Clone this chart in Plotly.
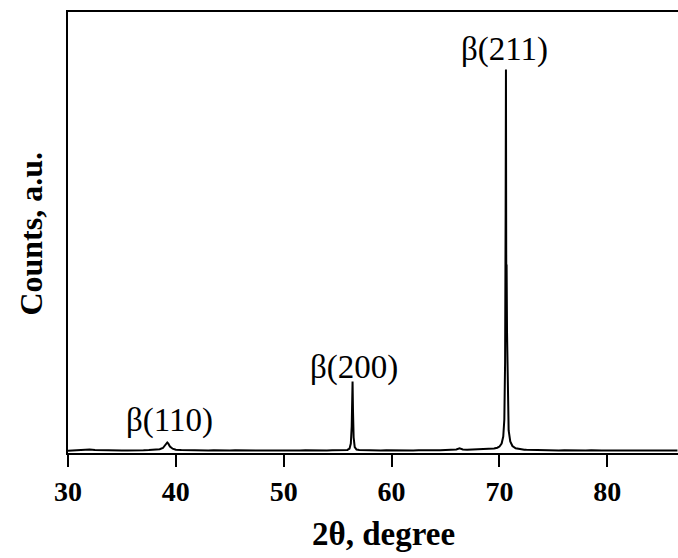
import plotly.graph_objects as go

# XRD pattern: diffraction angle (2θ, degrees) and measured counts (a.u.)
two_theta = [
    30.0, 30.5, 31.0, 31.5, 32.0, 32.5, 33.0, 33.5, 34.0, 34.5, 35.0, 35.5,
    36.0, 36.5, 37.0, 37.5, 38.0, 38.5,
    38.8, 39.0, 39.1, 39.2, 39.3, 39.45, 39.7, 40.0,
    40.5, 41.0, 41.5, 42.0, 42.5, 43.0, 43.5, 44.0, 44.5, 45.0, 45.5, 46.0,
    46.5, 47.0, 47.5, 48.0, 48.5, 49.0, 49.5, 50.0, 50.5, 51.0, 51.5, 52.0,
    52.5, 53.0, 53.5, 54.0, 54.5, 55.0, 55.5, 55.9,
    56.1, 56.22, 56.3, 56.35, 56.38, 56.42, 56.48, 56.58, 56.75, 57.0,
    57.5, 58.0, 58.5, 59.0, 59.5, 60.0, 60.5, 61.0, 61.5, 62.0, 62.5, 63.0,
    63.5, 64.0, 64.5, 65.0, 65.5, 66.0, 66.3, 66.6, 67.0, 67.5, 68.0, 68.5,
    69.0, 69.5, 69.8,
    70.0, 70.2, 70.35, 70.45, 70.52, 70.57, 70.6, 70.63, 70.66, 70.7, 70.76,
    70.85, 71.0, 71.2, 71.5, 71.9, 72.3,
    72.5, 73.0, 73.5, 74.0, 74.5, 75.0, 75.5, 76.0, 76.5, 77.0, 77.5, 78.0,
    78.5, 79.0, 79.5, 80.0, 80.5, 81.0, 81.5, 82.0, 82.5, 83.0, 83.5, 84.0,
    84.5, 85.0, 85.5, 86.0, 86.5,
]
counts = [
    18, 20, 22, 26, 30, 24, 22, 20, 22, 19, 21, 20,
    23, 20, 22, 24, 26, 32,
    45, 70, 90, 100, 88, 60, 38, 28,
    24, 22, 20, 23, 21, 19, 22, 20, 21, 19, 22, 20,
    18, 21, 19, 20, 22, 19, 21, 20, 18, 21, 19, 22,
    20, 19, 21, 20, 22, 21, 22, 26,
    40, 90, 260, 560, 710, 420, 150, 55, 30, 24,
    22, 21, 23, 20, 22, 21, 19, 22, 20, 21, 23, 21,
    22, 24, 22, 25, 27, 30, 42, 30, 28, 30, 29, 32,
    35, 40, 48,
    60, 90, 160, 330, 900, 2400, 3830, 1700, 1880, 1200, 520,
    220, 110, 65, 42, 32, 28,
    27, 25, 24, 22, 23, 21, 20, 22, 20, 19, 21, 20,
    22, 19, 20, 21, 19, 20, 22, 19, 20, 21, 19, 20,
    21, 19, 20, 21, 20,
]

# Reflection labels: text, 2θ and height of the label
peak_labels = ["β(110)", "β(200)", "β(211)"]
label_theta = [39.38, 56.55, 70.48]
label_counts = [325, 855, 4035]

x_ticks = [30, 40, 50, 60, 70, 80]

serif = "Liberation Serif"

fig = go.Figure()
fig.add_trace(go.Scatter(
    x=two_theta, y=counts, mode="lines",
    line=dict(color="black", width=2),
    hoverinfo="skip", showlegend=False,
))

for txt, xt, yc in zip(peak_labels, label_theta, label_counts):
    fig.add_annotation(
        x=xt, y=yc, xref="x", yref="y", text=txt, showarrow=False,
        font=dict(family=serif, size=33, color="black"),
        xanchor="center", yanchor="middle",
    )

# Axis titles
fig.add_annotation(
    x=0.517, y=-0.184, xref="paper", yref="paper", text="2θ, degree",
    showarrow=False, xanchor="center", yanchor="middle",
    font=dict(family=serif, size=33, color="black", weight="bold"),
)
fig.add_annotation(
    x=-0.061, y=0.497, xref="paper", yref="paper", text="Counts, a.u.",
    showarrow=False, xanchor="center", yanchor="middle", textangle=-90,
    font=dict(family=serif, size=32, color="black", weight="bold"),
)

fig.update_xaxes(
    range=[30, 86.55], tickvals=x_ticks, ticks="outside", ticklen=12,
    tickwidth=2, tickcolor="black", showline=True, linewidth=2,
    linecolor="black", mirror=True, showgrid=False, zeroline=False,
    tickfont=dict(family=serif, size=28, color="black", weight="bold"),
)
fig.update_yaxes(
    range=[-5, 4405], showticklabels=False, ticks="", showline=True,
    linewidth=2, linecolor="black", mirror=False, showgrid=False,
    zeroline=False,
)

fig.update_layout(
    width=678, height=558,
    margin=dict(l=68, r=0, t=12, b=105),
    plot_bgcolor="white", paper_bgcolor="white",
)

fig.write_html("out.html")
